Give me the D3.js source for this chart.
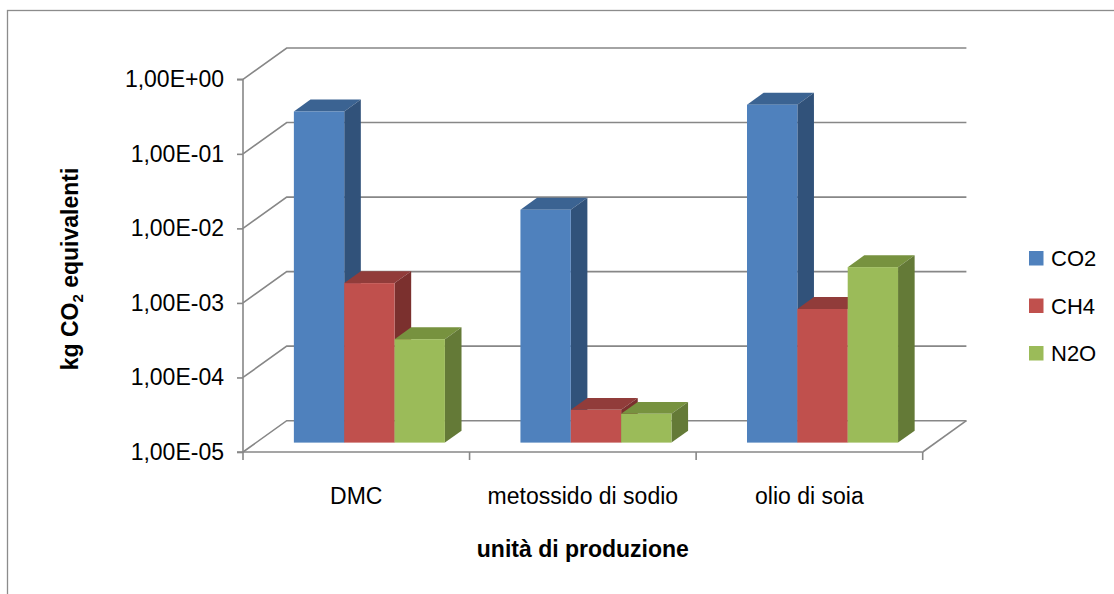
<!DOCTYPE html>
<html>
<head>
<meta charset="utf-8">
<script src="https://cdn.jsdelivr.net/npm/d3@7/dist/d3.min.js"></script>
<style>
  html, body { margin: 0; padding: 0; background: #fff; }
  svg { display: block; font-family: "Liberation Sans", Arial, sans-serif; }
</style>
</head>
<body>
<svg id="chart" width="1114" height="594"></svg>
<script>
// Emissions per production unit (kg CO2 eq), log scale
const categories = ["DMC", "metossido di sodio", "olio di soia"];
const seriesNames = ["CO2", "CH4", "N2O"];
const co2 = [0.277, 0.0133, 0.341];
const ch4 = [0.00138, 0.0000275, 0.00062];
const n2o = [0.000244, 0.0000243, 0.00226];
const yTickValues = [1e-5, 1e-4, 1e-3, 1e-2, 1e-1, 1];
const yTickLabels = ["1,00E-05", "1,00E-04", "1,00E-03", "1,00E-02", "1,00E-01", "1,00E+00"];

const seriesValues = [co2, ch4, n2o];
const faceColors = {
  CO2: { front: "#4F81BD", top: "#3B6392", side: "#31527A" },
  CH4: { front: "#C0504D", top: "#913C3A", side: "#7B302E" },
  N2O: { front: "#9BBB59", top: "#77923F", side: "#647A37" }
};

const svg = d3.select("#chart");
const gridColor = "#878787";

// plot geometry (front plane) and oblique depth offset
const X0 = 243, X1 = 922.7, YB = 452, YT = 79.3;
const DX = 43.7, DY = 31.3;
const D_FRONT = 0.3, D_BACK = 0.68;
const P = (x, y, d) => [x + d * DX, y - d * DY];

const x = d3.scaleBand().domain(categories).range([X0, X1]).padding(0);
const xs = d3.scaleBand().domain(seriesNames).range([0, x.bandwidth()])
  .paddingInner(0).paddingOuter(0.75);
const y = d3.scaleLog().domain([1e-5, 1]).range([YB, YT]);

// chart frame
svg.append("rect").attr("x", 7.5).attr("y", 10.5).attr("width", 1120).attr("height", 600)
  .attr("fill", "none").attr("stroke", "#8C8C8C").attr("stroke-width", 1.3);

const line = d3.line();
const grid = svg.append("g").attr("fill", "none").attr("stroke", gridColor).attr("stroke-width", 1.6);

// side wall diagonals and back wall gridlines
yTickValues.forEach(t => {
  const a = P(X0, y(t), 0), b = P(X0, y(t), 1), c = P(X1, y(t), 1);
  grid.append("path").attr("d", line([a, b, c]));
});
// floor right edge
grid.append("path").attr("d", line([P(X1, YB, 0), P(X1, YB, 1)]));

// value axis (front)
const axisG = svg.append("g");
const yAxis = d3.axisLeft(y).tickValues(yTickValues).tickSize(6)
  .tickFormat((d, i) => yTickLabels[i]).tickPadding(13);
axisG.attr("transform", `translate(${X0},0)`).call(yAxis);
axisG.select(".domain").attr("stroke", gridColor).attr("stroke-width", 1.6)
  .attr("d", `M-6,${YT}H0V${YB}H-6`);
axisG.selectAll(".tick line").attr("stroke", gridColor).attr("stroke-width", 1.6);
axisG.selectAll(".tick text").attr("font-size", 23).attr("fill", "#000")
  .attr("font-family", "'Liberation Sans', Arial, sans-serif");

// category axis (front floor edge)
const xAxisG = svg.append("g").attr("transform", `translate(0,${YB})`);
xAxisG.append("path").attr("d", `M${X0},0H${X1}`).attr("stroke", gridColor).attr("stroke-width", 1.6);
const bounds = categories.map(c => x(c)).concat([X1]);
xAxisG.selectAll("line.tk").data(bounds).join("line").attr("class", "tk")
  .attr("x1", d => d).attr("x2", d => d).attr("y1", 0).attr("y2", 8)
  .attr("stroke", gridColor).attr("stroke-width", 1.6);
xAxisG.selectAll("text").data(categories).join("text")
  .attr("x", d => x(d) + x.bandwidth() / 2).attr("y", 52)
  .attr("text-anchor", "middle").attr("font-size", 23).attr("fill", "#000")
  .text(d => d);

// 3D columns, drawn left to right so each front face covers its neighbour's side
const bars = svg.append("g");
categories.forEach((cat, ci) => {
  seriesNames.forEach((s, si) => {
    const v = seriesValues[si][ci];
    const xl = x(cat) + xs(s), xr = xl + xs.bandwidth();
    const yt = y(v), yb = y(1e-5);
    const col = faceColors[s];
    const g = bars.append("g");
    // top
    g.append("path").attr("fill", col.top)
      .attr("d", line([P(xl, yt, D_FRONT), P(xr, yt, D_FRONT), P(xr, yt, D_BACK), P(xl, yt, D_BACK)]) + "Z");
    // right side
    g.append("path").attr("fill", col.side)
      .attr("d", line([P(xr, yt, D_FRONT), P(xr, yb, D_FRONT), P(xr, yb, D_BACK), P(xr, yt, D_BACK)]) + "Z");
    // front
    const f0 = P(xl, yt, D_FRONT), f1 = P(xr, yb, D_FRONT);
    g.append("rect").attr("fill", col.front)
      .attr("x", f0[0]).attr("y", f0[1]).attr("width", f1[0] - f0[0]).attr("height", f1[1] - f0[1]);
  });
});

// axis titles
const yTitle = svg.append("text").attr("transform", "translate(78,269) rotate(-90)")
  .attr("text-anchor", "middle").attr("font-size", 23).attr("font-weight", "bold").attr("fill", "#000");
yTitle.append("tspan").text("kg CO");
yTitle.append("tspan").attr("font-size", 15).attr("dy", 5).text("2");
yTitle.append("tspan").attr("dy", -5).text(" equivalenti");

svg.append("text").attr("x", (X0 + X1) / 2).attr("y", 557)
  .attr("text-anchor", "middle").attr("font-size", 23).attr("font-weight", "bold").attr("fill", "#000")
  .text("unità di produzione");

// legend
const legendY = d3.scalePoint().domain(seriesNames).range([258, 353]);
const lg = svg.append("g");
lg.selectAll("rect").data(seriesNames).join("rect")
  .attr("x", 1029).attr("y", d => legendY(d) - 7).attr("width", 14.5).attr("height", 14.5)
  .attr("fill", d => faceColors[d].front);
lg.selectAll("text").data(seriesNames).join("text")
  .attr("x", 1051).attr("y", d => legendY(d) + 8).attr("font-size", 22).attr("fill", "#000")
  .text(d => d);
</script>
</body>
</html>
